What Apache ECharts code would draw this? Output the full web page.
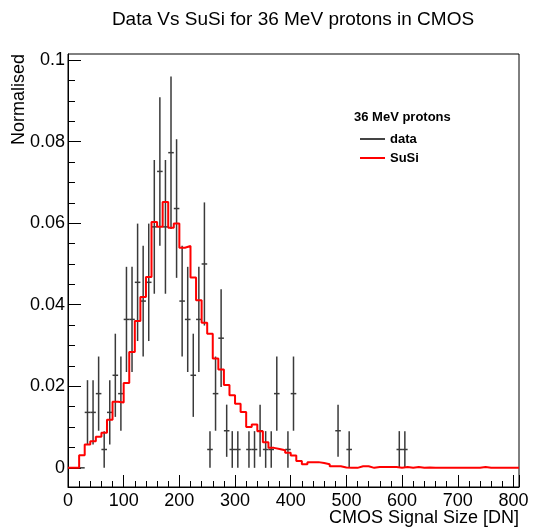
<!DOCTYPE html>
<html><head><meta charset="utf-8">
<script src="https://cdn.jsdelivr.net/npm/echarts@6/dist/echarts.min.js"></script>
<style>html,body{margin:0;padding:0;background:#fff}#c{width:534px;height:530px}</style>
</head><body><div id="c"></div>
<script>
// SuSi histogram: bins of 10 DN starting at 0 (0-10, 10-20, ... 800-810)
const binWidth = 10;
const susiValues = [
  0, 0, 0.0031, 0.0057, 0.0065, 0.0076, 0.0086, 0.0118, 0.0162, 0.0160,
  0.0208, 0.0284, 0.0360, 0.0419, 0.0468, 0.0603, 0.0591, 0.0652, 0.0589, 0.0599,
  0.0540, 0.0544, 0.0467, 0.0411, 0.0356, 0.0329, 0.0268, 0.0241, 0.0203, 0.0178,
  0.0157, 0.0137, 0.0100, 0.0106, 0.0090, 0.0063, 0.0049, 0.0046, 0.0043, 0.0037,
  0.0030, 0.0017, 0.0009, 0.0014, 0.0014, 0.0012, 0.0009, 0.0004, 0.0004, 0.0001,
  0, 0, 0.0004, 0.0004, 0, 0.0002, 0.0002, 0.0002, 0.0002, 0,
  0.0002, 0, 0.0002, 0, 0.0001, 0, 0, 0, 0, 0,
  0, 0, 0, 0, 0.0002, 0, 0, 0, 0, 0,
  0
];
// Measured data points (bin centres, normalised counts, errors)
const dataCenters = [25, 35, 45, 55, 65, 75, 85, 95, 105, 115, 125, 135, 145, 155, 165, 175, 185, 195, 205, 215,
  225, 235, 245, 255, 265, 275, 285, 295, 305, 325, 335, 345, 355, 365, 375, 395, 405, 485, 505, 595, 605];
const dataValues = [0, 0.0136, 0.0136, 0.0182, 0.0045, 0.0136, 0.0227, 0.0182, 0.0364, 0.0364, 0.0455, 0.0409, 0.0455, 0.0591, 0.0727, 0.0591, 0.0773, 0.0636, 0.0409, 0.0364,
  0.0227, 0.0364, 0.0500, 0.0045, 0.0182, 0.0318, 0.0091, 0.0045, 0.0045, 0.0045, 0.0045, 0.0091, 0.0045, 0.0045, 0.0182, 0.0045, 0.0182, 0.0091, 0.0045, 0.0045, 0.0045];
const dataErrors = [0, 0.0079, 0.0079, 0.0091, 0.0045, 0.0079, 0.0102, 0.0091, 0.0129, 0.0129, 0.0144, 0.0136, 0.0144, 0.0164, 0.0182, 0.0164, 0.0187, 0.0170, 0.0136, 0.0129,
  0.0102, 0.0129, 0.0151, 0.0045, 0.0091, 0.0120, 0.0064, 0.0045, 0.0045, 0.0045, 0.0045, 0.0064, 0.0045, 0.0045, 0.0091, 0.0045, 0.0091, 0.0064, 0.0045, 0.0045, 0.0045];
const yMajorTicks = [0, 0.02, 0.04, 0.06, 0.08, 0.1];
const yMinorTicks = [0.005, 0.01, 0.015, 0.025, 0.03, 0.035, 0.045, 0.05, 0.055, 0.065, 0.07, 0.075, 0.085, 0.09, 0.095];
const xMin = 0, xMax = 810, xInterval = 100;
const yMin = -0.0047, yMax = 0.1015;

const susiLine = susiValues.map((v, i) => [i * binWidth, v]);
susiLine.push([susiValues.length * binWidth, susiValues[susiValues.length - 1]]);
const dataPoints = dataCenters.map((c, i) => [c, dataValues[i], dataErrors[i]]);

const FONT = 'Liberation Sans, Arial, Helvetica, sans-serif';
const chart = echarts.init(document.getElementById('c'), null, {renderer: 'canvas'});
chart.setOption({
  animation: false,
  backgroundColor: '#fff',
  grid: {left: 68, right: 15, top: 54, bottom: 43, show: true, borderColor: '#000', borderWidth: 1, backgroundColor: 'transparent'},
  xAxis: {
    type: 'value', min: xMin, max: xMax, interval: xInterval,
    axisLine: {show: true, onZero: false, lineStyle: {color: '#000', width: 1}},
    axisTick: {show: true, inside: true, length: 12, lineStyle: {color: '#000', width: 1}},
    minorTick: {show: true, splitNumber: 5, length: 6, lineStyle: {color: '#000', width: 1}},
    splitLine: {show: false},
    axisLabel: {show: true, color: '#000', fontSize: 18, fontFamily: FONT, margin: 5, showMaxLabel: false, showMinLabel: true}
  },
  yAxis: [{
    type: 'value', min: yMin, max: yMax,
    axisLine: {show: true, onZero: false, lineStyle: {color: '#000', width: 1}},
    axisTick: {show: true, inside: true, length: 13, customValues: yMajorTicks, lineStyle: {color: '#000', width: 1}},
    splitLine: {show: false},
    axisLabel: {show: true, color: '#000', fontSize: 18, fontFamily: FONT, margin: 3, customValues: yMajorTicks,
      formatter: v => String(+v.toFixed(3))}
  }, {
    type: 'value', min: yMin, max: yMax, position: 'left',
    axisLine: {show: false},
    axisTick: {show: true, inside: true, length: 7, customValues: yMinorTicks, lineStyle: {color: '#000', width: 1}},
    splitLine: {show: false},
    axisLabel: {show: false}
  }],
  legend: {
    left: 355, top: 126, orient: 'vertical', itemWidth: 25, itemHeight: 2, itemGap: 3,
    textStyle: {fontSize: 13, fontWeight: 'bold', fontFamily: FONT, color: '#000', lineHeight: 16},
    data: [
      {name: 'data', icon: 'rect', itemStyle: {color: '#444'}},
      {name: 'SuSi', icon: 'rect', itemStyle: {color: '#ff0000'}}
    ]
  },
  graphic: [
    {type: 'text', x: 293, y: 20, style: {text: 'Data Vs SuSi for 36 MeV protons in CMOS', font: '19px ' + FONT, fill: '#000', align: 'center', verticalAlign: 'middle'}},
    {type: 'text', x: 519, y: 518, style: {text: 'CMOS Signal Size [DN]', font: '18px ' + FONT, fill: '#000', align: 'right', verticalAlign: 'middle'}},
    {type: 'text', x: 19, y: 54, rotation: Math.PI / 2, style: {text: 'Normalised', font: '18px ' + FONT, fill: '#000', align: 'right', verticalAlign: 'middle'}},
    {type: 'text', x: 354, y: 117, style: {text: '36 MeV protons', font: 'bold 13px ' + FONT, fill: '#000', align: 'left', verticalAlign: 'middle'}}
  ],
  series: [{
    name: 'data', type: 'custom', xAxisIndex: 0, yAxisIndex: 0, z: 2,
    encode: {x: 0, y: 1},
    data: dataPoints,
    renderItem: function (params, api) {
      const x = api.value(0), v = api.value(1), e = api.value(2);
      const pL = api.coord([x - binWidth / 2, v]);
      const pR = api.coord([x + binWidth / 2, v]);
      const st = {stroke: '#3a3a3a', lineWidth: 1.5};
      const children = [{type: 'line', shape: {x1: pL[0], y1: pL[1], x2: pR[0], y2: pR[1]}, style: st}];
      if (e > 0) {
        const pT = api.coord([x, v + e]);
        const pB = api.coord([x, v - e]);
        children.push({type: 'line', shape: {x1: pT[0], y1: pT[1], x2: pB[0], y2: pB[1]}, style: st});
      }
      return {type: 'group', children: children};
    }
  }, {
    name: 'SuSi', type: 'line', xAxisIndex: 0, yAxisIndex: 0, z: 3,
    step: 'end', symbol: 'none', data: susiLine,
    lineStyle: {color: '#ff0000', width: 2}, itemStyle: {color: '#ff0000'}
  }]
});
</script></body></html>
